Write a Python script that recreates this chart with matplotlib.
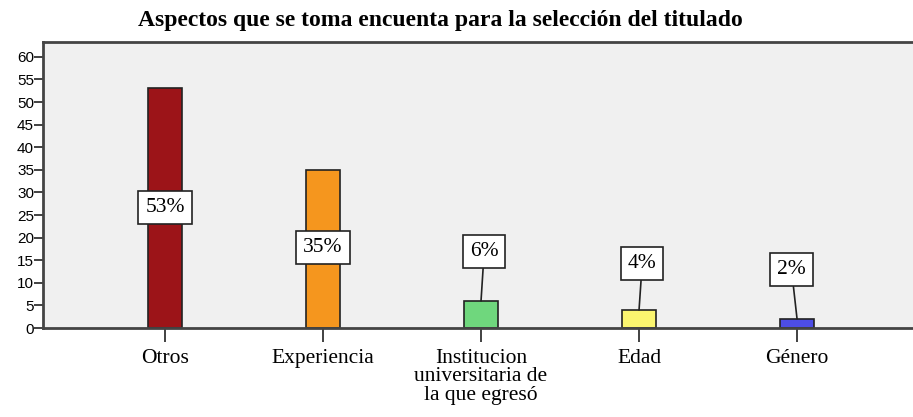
import matplotlib

matplotlib.use("Agg")
import matplotlib.pyplot as plt

# data
categories = ["Otros", "Experiencia", "Institucion\nuniversitaria de\nla que egresó", "Edad", "Género"]
values = [53, 35, 6, 4, 2]
labels = ["53%", "35%", "6%", "4%", "2%"]
colors = ["#9c1418", "#f5961e", "#6fd77d", "#fbf56f", "#4d4de6"]

# where the % boxes sit (data units)
box_y = [26.7, 17.8, 16.9, 14.3, 12.9]
box_dx = [0, 0, 0.02, 0.02, -0.035]

fig = plt.figure(figsize=(9.13, 4.17), dpi=100)
# right edge runs off the picture, as in the original
ax = fig.add_axes([43 / 913, 0.2134, 880 / 913, 0.686])
ax.set_facecolor("#f0f0f0")

x = list(range(len(values)))
ax.bar(x, values, width=0.22, color=colors, edgecolor="#222222", lw=1.2, zorder=2)

for i, (v, lab) in enumerate(zip(values, labels)):
    inside = box_y[i] < v
    ax.annotate(
        lab,
        xy=(i, v),
        xytext=(i + box_dx[i], box_y[i]),
        ha="center",
        va="center",
        fontsize=15.5,
        family="Liberation Serif",
        bbox=dict(boxstyle="square,pad=0.32", fc="white", ec="#222222", lw=1.2),
        arrowprops=None if inside else dict(arrowstyle="-", color="#222222", lw=1.2, shrinkA=0, shrinkB=0),
        zorder=3,
    )

ax.set_xlim(-0.772, 4.797)
ax.set_ylim(0, 63.3)
ax.set_yticks(range(0, 61, 5))
ax.set_xticks(x)
ax.set_xticklabels(categories, family="Liberation Serif", fontsize=15.5, linespacing=0.97)
for t in ax.get_yticklabels():
    t.set_family("Liberation Sans")
    t.set_fontsize(11)
ax.tick_params(axis="y", length=6.5, width=1.3, color="#333333", pad=0)
ax.tick_params(axis="x", length=10, width=1.3, color="#333333", pad=5)
for s in ax.spines.values():
    s.set_color("#444444")
    s.set_linewidth(2)

fig.text(0.482, 0.952, "Aspectos que se toma encuenta para la selección del titulado",
         ha="center", va="center", fontsize=17, fontweight="bold", family="Liberation Serif")

fig.savefig("out.png", dpi=100)
